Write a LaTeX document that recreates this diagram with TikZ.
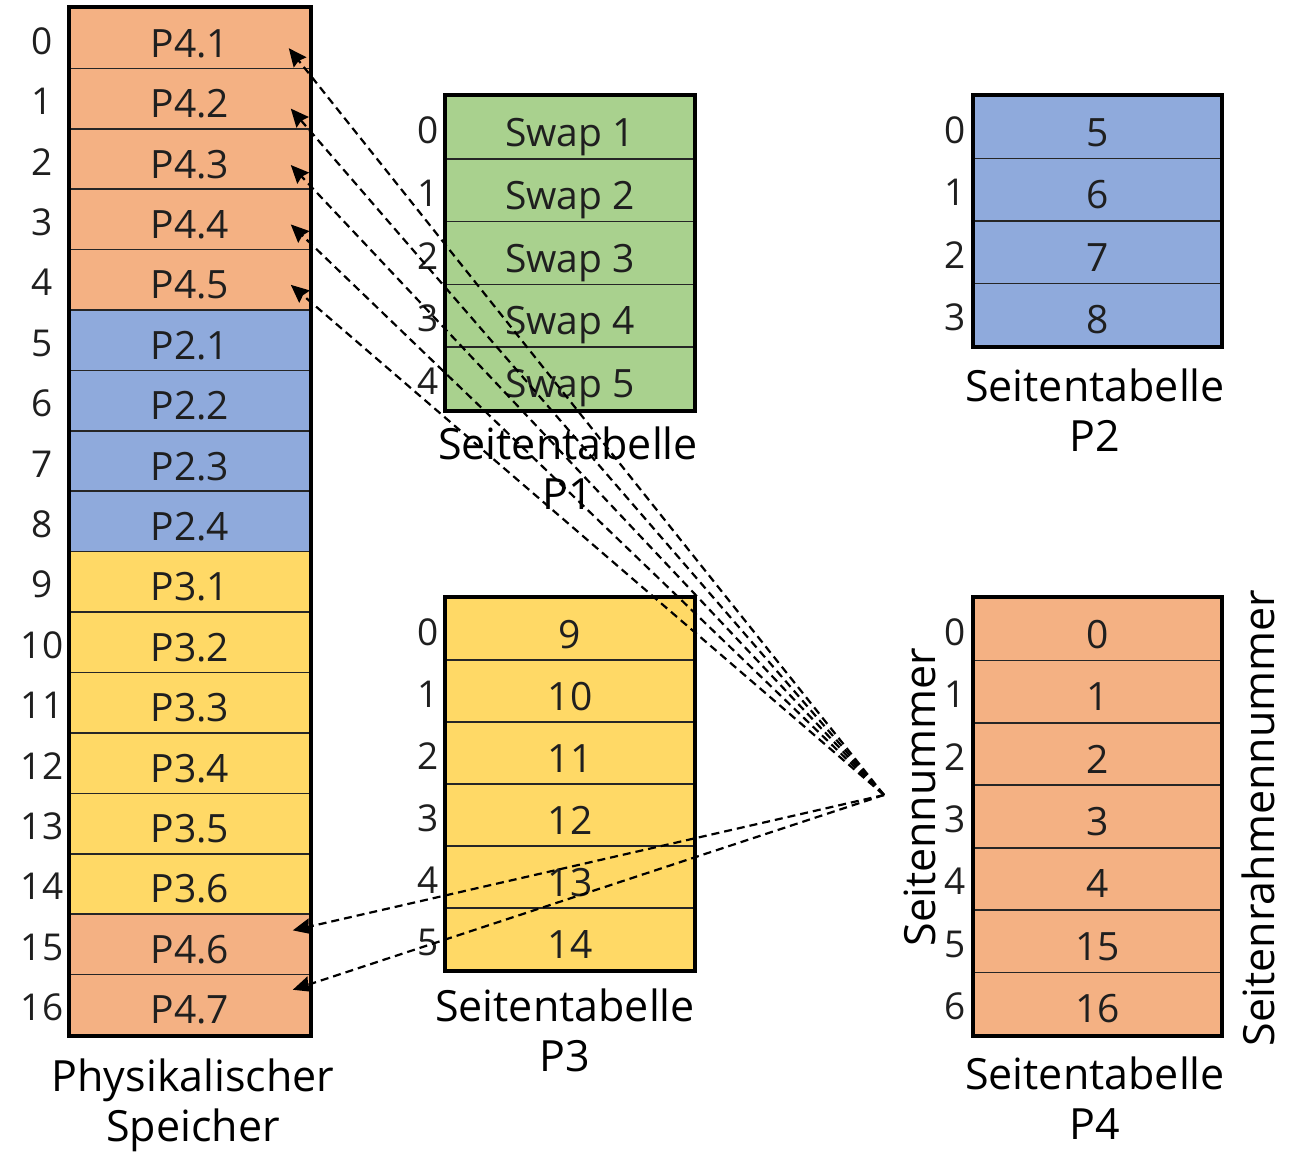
\documentclass[tikz,border=0pt]{standalone}
\usepackage{fontspec}
\setmainfont{Open Sans}
\usetikzlibrary{arrows.meta,calc}
\definecolor{orng}{HTML}{F4B183}
\definecolor{blu}{HTML}{8FAADC}
\definecolor{grn}{HTML}{A9D18E}
\definecolor{yel}{HTML}{FFD966}
\definecolor{txt}{HTML}{1F1F1F}
\begin{document}
\begin{tikzpicture}[x=1pt,y=-1pt,
  cell/.style={draw=black!85, line width=1.6pt, inner sep=0pt, text=txt, text height=38pt, text depth=0pt, font=\fontsize{39}{44}\selectfont},
  idx/.style={inner sep=0pt, text=txt, text height=28pt, text depth=0pt, font=\fontsize{37}{42}\selectfont},
  lbl/.style={inner sep=0pt, align=center, text=black, font=\fontsize{43}{50}\selectfont},
  outer/.style={line width=4pt, draw=black},
  ptr/.style={dash pattern=on 8pt off 5pt, line width=2.2pt, -{Stealth[length=18pt,width=16pt,inset=2pt]}}]
\useasboundingbox (0,0) rectangle (1296,1153);

% Physical memory
\foreach \t/\c [count=\i from 0] in {P4.1/orng,P4.2/orng,P4.3/orng,P4.4/orng,P4.5/orng,P2.1/blu,P2.2/blu,P2.3/blu,P2.4/blu,P3.1/yel,P3.2/yel,P3.3/yel,P3.4/yel,P3.5/yel,P3.6/yel,P4.6/orng,P4.7/orng}{
  \node[cell, fill=\c, minimum width=240pt, minimum height=60.41pt] (m\i) at (190,{8+60.41*(\i+0.5)}) {\t};
  \node[idx] (mi\i) at (42,{8+60.41*(\i+0.5)+2}) {\i};
}
\draw[outer] (m0.north west) rectangle (m16.south east);
\node[lbl] (lm) at (193,1105) {Physikalischer\\Speicher};

% Page table P1
\foreach \t [count=\i from 0] in {Swap 1,Swap 2,Swap 3,Swap 4,Swap 5}{
  \node[cell, fill=grn, minimum width=248pt, minimum height=62.8pt] (a\i) at (570,{96+62.8*(\i+0.5)}) {\t};
  \node[idx] (ai\i) at (428,{96+62.8*(\i+0.5)+2}) {\i};
}
\draw[outer] (a0.north west) rectangle (a4.south east);
\node[lbl] (la) at (568,468) {Seitentabelle\\P1};

% Page table P2
\foreach \t [count=\i from 0] in {5,6,7,8}{
  \node[cell, fill=blu, minimum width=247pt, minimum height=62.5pt] (b\i) at (1097.5,{96+62.5*(\i+0.5)}) {\t};
  \node[idx] (bi\i) at (955,{96+62.5*(\i+0.5)+2}) {\i};
}
\draw[outer] (b0.north west) rectangle (b3.south east);
\node[lbl] (lb) at (1095,410) {Seitentabelle\\P2};

% Page table P3
\foreach \t [count=\i from 0] in {9,10,11,12,13,14}{
  \node[cell, fill=yel, minimum width=248pt, minimum height=62pt] (c\i) at (570,{598+62*(\i+0.5)}) {\t};
  \node[idx] (ci\i) at (428,{598+62*(\i+0.5)+2}) {\i};
}
\draw[outer] (c0.north west) rectangle (c5.south east);
\node[lbl] (lc) at (565,1030) {Seitentabelle\\P3};

% Page table P4
\foreach \t [count=\i from 0] in {0,1,2,3,4,15,16}{
  \node[cell, fill=orng, minimum width=247pt, minimum height=62.43pt] (d\i) at (1097.5,{598+62.43*(\i+0.5)}) {\t};
  \node[idx] (di\i) at (955,{598+62.43*(\i+0.5)+2}) {\i};
}
\draw[outer] (d0.north west) rectangle (d6.south east);
\node[lbl] (ld) at (1095,1098) {Seitentabelle\\P4};

\node[lbl, rotate=90] (sn) at (920,797) {Seitennummer};
\node[lbl, rotate=90] (srn) at (1258,818) {Seitenrahmennummer};

% Pointers
\coordinate (hub) at (884,795);
\coordinate (t0) at ($(m0.east)+(-22,10)$);
\coordinate (t1) at ($(m1.east)+(-20,10)$);
\coordinate (t2) at ($(m2.east)+(-20,6)$);
\coordinate (t3) at ($(m3.east)+(-20,5)$);
\coordinate (t4) at ($(m4.east)+(-20,5)$);
\coordinate (t15) at ($(m15.east)+(-18,-14)$);
\coordinate (t16) at ($(m16.east)+(-18,-15)$);
\foreach \k in {0,1,2,3,4,15,16}{
  \draw[ptr] (hub) -- (t\k);
}
\end{tikzpicture}
\end{document}
